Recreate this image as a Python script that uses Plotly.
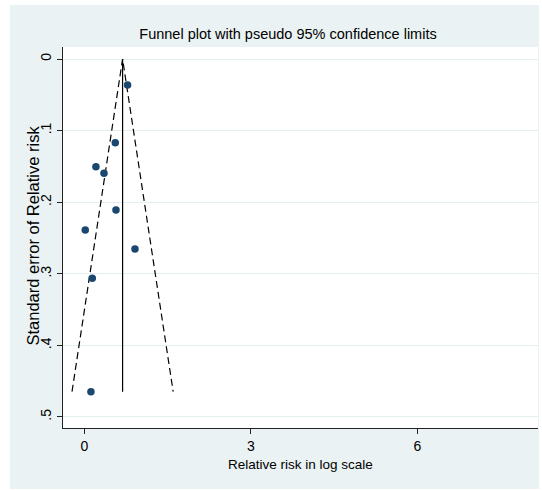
import plotly.graph_objects as go

# Study estimates: log relative risk and its standard error
log_rr = [0.78, 0.558, 0.21, 0.355, 0.571, 0.018, 0.913, 0.144, 0.12]
se_rr = [0.0363, 0.1169, 0.1504, 0.1597, 0.2109, 0.2388, 0.2654, 0.3063, 0.4647]

# Pooled (fixed-effect) log relative risk shown by the vertical line
pooled = 0.69
z95 = 1.96

x_ticks = [0, 3, 6]
x_tick_labels = ["0", "3", "6"]
y_ticks = [0, 0.1, 0.2, 0.3, 0.4, 0.5]
y_tick_labels = ["0", ".1", ".2", ".3", ".4", ".5"]

W, H = 542, 490
L, R, T, B = 63, 4, 47, 62
pw, ph = W - L - R, H - T - B

navy = "#1a476f"
bg = "#eaf2f3"
font = "Liberation Sans, Arial, sans-serif"

se_max = max(se_rr)

fig = go.Figure()

# Pseudo 95% confidence limits
fig.add_trace(go.Scatter(
    x=[pooled - z95 * se_max, pooled, pooled + z95 * se_max],
    y=[se_max, 0, se_max],
    mode="lines",
    line=dict(color="black", width=1.2, dash="7px,4px"),
    hoverinfo="skip", showlegend=False,
))
# Pooled estimate
fig.add_trace(go.Scatter(
    x=[pooled, pooled], y=[0, se_max],
    mode="lines",
    line=dict(color="black", width=1.2),
    hoverinfo="skip", showlegend=False,
))
# Studies
fig.add_trace(go.Scatter(
    x=log_rr, y=se_rr,
    mode="markers",
    marker=dict(color=navy, size=7.5, line=dict(width=0)),
    showlegend=False,
))

def px_x(p):
    return (p - L) / pw

def px_y(p):
    return (H - B - p) / ph

# Graph region background and white plot region
fig.add_shape(type="rect", xref="paper", yref="paper", layer="below",
              x0=px_x(10), x1=px_x(539), y0=px_y(489), y1=px_y(5),
              fillcolor=bg, line=dict(width=0))
fig.add_shape(type="rect", xref="paper", yref="paper", layer="below",
              x0=0, x1=1, y0=0, y1=1,
              fillcolor="white", line=dict(width=0))

# Axis titles
fig.add_annotation(text="Standard error of Relative risk", textangle=-90,
                   xref="paper", yref="paper", x=px_x(32.5), y=px_y(236),
                   xanchor="center", yanchor="middle", showarrow=False,
                   font=dict(size=16.5, family=font, color="black"))
fig.add_annotation(text="Relative risk in log scale",
                   xref="paper", yref="paper", x=px_x(300), y=px_y(465),
                   xanchor="center", yanchor="middle", showarrow=False,
                   font=dict(size=13.5, family=font, color="black"))

fig.update_layout(
    width=W, height=H,
    margin=dict(l=L, r=R, t=T, b=B),
    paper_bgcolor="white",
    plot_bgcolor="rgba(0,0,0,0)",
    font=dict(family=font, color="black", size=13),
    title=dict(text="Funnel plot with pseudo 95% confidence limits",
               x=288 / W, xanchor="center",
               y=1 - 34 / H, yanchor="middle",
               font=dict(size=14.5, family=font, color="black")),
    xaxis=dict(
        range=[-0.383, 8.17],
        tickvals=x_ticks, ticktext=x_tick_labels,
        ticks="outside", ticklen=5, tickcolor="#222", tickwidth=1,
        showline=True, linecolor="#222", linewidth=1.3,
        showgrid=False, zeroline=False,
        tickfont=dict(size=14),
    ),
    yaxis=dict(
        range=[0.5154, -0.0168],
        tickvals=y_ticks, ticktext=y_tick_labels,
        tickangle=-90,
        ticks="outside", ticklen=5, tickcolor="#222", tickwidth=1,
        showline=True, linecolor="#222", linewidth=1.3,
        showgrid=True, gridcolor="#e3eef0", gridwidth=1.2,
        zeroline=False,
        tickfont=dict(size=14),
    ),
)

fig.write_html("out.html")
